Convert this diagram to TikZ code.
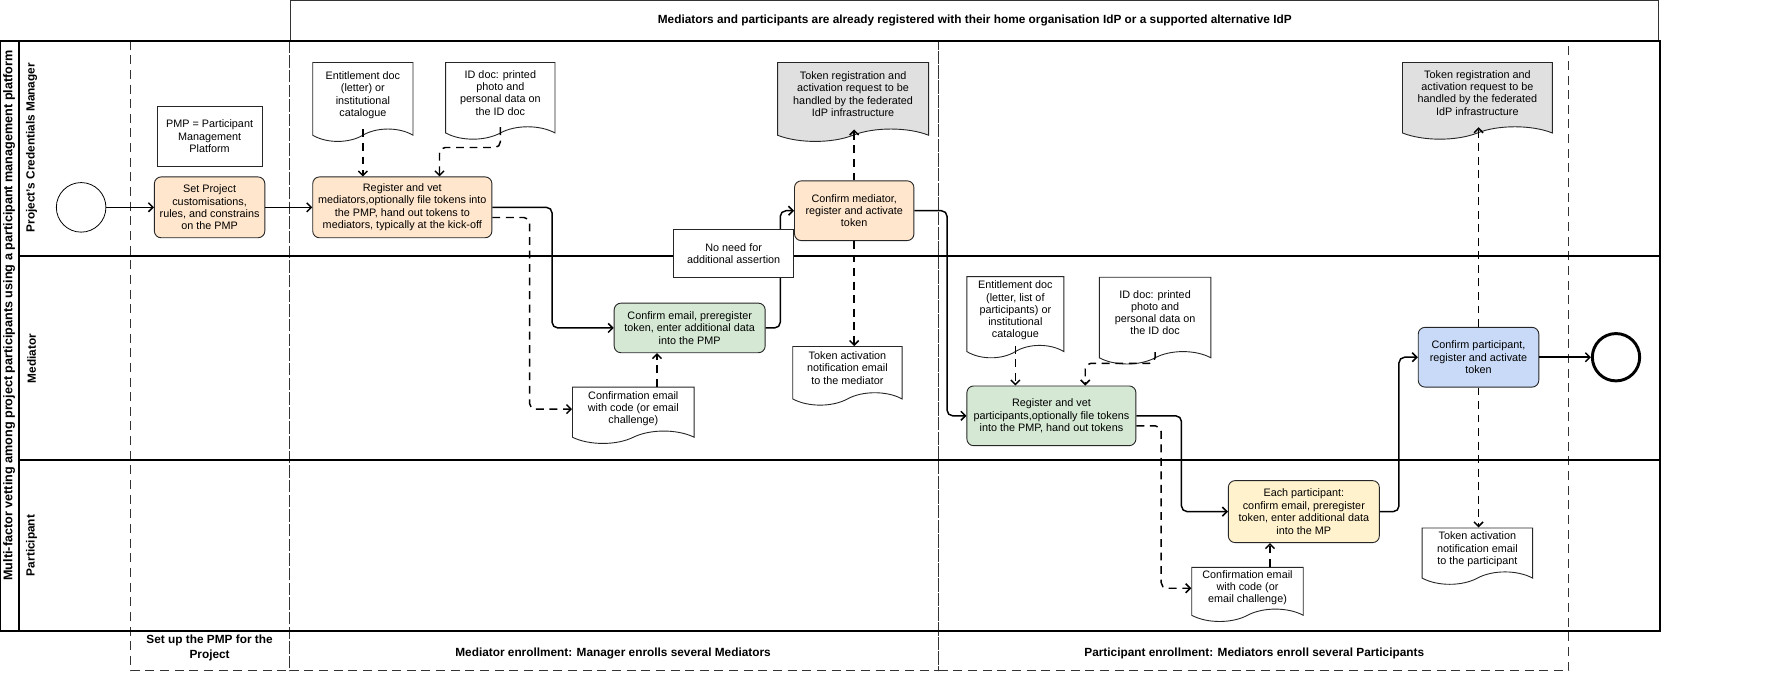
\documentclass[tikz,border=0pt]{standalone}
\usepackage{fontspec}
\setmainfont{Liberation Sans}
\usetikzlibrary{arrows.meta,shapes.symbols}
\definecolor{peach}{HTML}{FFE6CC}
\definecolor{mint}{HTML}{D5E8D4}
\definecolor{cream}{HTML}{FFF2CC}
\definecolor{sky}{HTML}{C9DAF8}
\definecolor{fog}{HTML}{E0E0E0}
\definecolor{phasegray}{HTML}{333333}
\tikzset{
  task/.style={draw=black!85, line width=0.8pt, rounded corners=6pt, align=center, inner sep=1pt, font=\fontsize{9.6}{11}\selectfont},
  document/.style={draw=black!85, line width=0.8pt, fill=white, tape, tape bend top=none, tape bend bottom=in and out, tape bend height=11pt, align=center, inner sep=0.5pt, font=\fontsize{9.6}{10.8}\selectfont, execute at end node={\rule[-3pt]{0pt}{3pt}}},
  memo/.style={draw=black!85, line width=0.8pt, fill=white, align=center, inner sep=1pt, font=\fontsize{9.6}{11}\selectfont},
  flow/.style={line width=1.3pt, rounded corners=5pt, -{Straight Barb[length=4pt,width=8pt]}},
  assoc/.style={flow, dash pattern=on 7pt off 5pt},
  phasebox/.style={draw=phasegray, line width=1.2pt, dash pattern=on 8pt off 5pt},
  lanelabel/.style={rotate=90, font=\bfseries\fontsize{10.5}{12}\selectfont},
  phaselabel/.style={align=center, font=\bfseries\fontsize{10.5}{12.5}\selectfont}
}
\begin{document}
\begin{tikzpicture}[x=1pt, y=-1pt]
  \useasboundingbox (0,0) rectangle (1568,612);

  \draw[line width=0.8pt, black!80] (258,36) -- (258,0.5) -- (1472,0.5) -- (1472,36);
  \node[font=\bfseries\fontsize{10.5}{12}\selectfont] (banner) at (865,18) {Mediators and participants are already registered with their home organisation IdP or a supported alternative IdP};

  \draw[phasebox] (116,36) rectangle (257,595);
  \draw[phasebox] (257,36) rectangle (833,595);
  \draw[phasebox] (833,36) rectangle (1392,595);
  \node[phaselabel] (setup) at (186,575) {Set up the PMP for the\\Project};
  \node[phaselabel] (medphase) at (544,580) {Mediator enrollment: Manager enrolls several Mediators};
  \node[phaselabel] (partphase) at (1113,580) {Participant enrollment: Mediators enroll several Participants};

  \draw[line width=1.8pt] (0,36) rectangle (1473,560);
  \draw[line width=1.8pt] (17,36) -- (17,560);
  \draw[line width=1.8pt] (17,227) -- (1473,227);
  \draw[line width=1.8pt] (17,408) -- (1473,408);
  \node[lanelabel, font=\bfseries\fontsize{11.2}{13}\selectfont] (pool) at (8,280) {Multi-factor vetting among project participants using a participant management platform};
  \node[lanelabel] (manager) at (28,131) {Project's Credentials Manager};
  \node[lanelabel] (mediator) at (28,318) {Mediator};
  \node[lanelabel] (participant) at (28,484) {Participant};

  \node[draw, circle, minimum size=44pt, line width=0.7pt] (start) at (72,184) {};
  \node[draw, circle, minimum size=42pt, line width=2.6pt] (finish) at (1434,317) {};

  \node[memo, minimum width=93pt, minimum height=53pt] (pmp) at (186,121) {PMP = Participant\\Management\\Platform};
  \node[task, fill=peach, minimum width=98pt, minimum height=54pt] (setproj) at (186,184) {Set Project\\customisations,\\rules, and constrains\\on the PMP};
  \node[task, fill=peach, minimum width=159pt, minimum height=54pt] (regmed) at (357,184) {Register and vet\\mediators,optionally file tokens into\\the PMP, hand out tokens to\\mediators, typically at the kick-off};
  \node[task, fill=peach, minimum width=106pt, minimum height=53pt] (confmed) at (758,187) {Confirm mediator,\\register and activate\\token};
  \node[task, fill=mint, minimum width=134pt, minimum height=44pt] (medmail) at (612,291) {Confirm email, preregister\\token, enter additional data\\into the PMP};
  \node[task, fill=mint, minimum width=150pt, minimum height=53pt] (regpart) at (933,369) {Register and vet\\participants,optionally file tokens\\into the PMP, hand out tokens};
  \node[task, fill=cream, minimum width=134pt, minimum height=55pt] (partmail) at (1157,454) {Each participant:\\confirm email, preregister\\token, enter additional data\\into the MP};
  \node[task, fill=sky, minimum width=107pt, minimum height=53pt] (confpart) at (1312,317) {Confirm participant,\\register and activate\\token};

  \node[document, minimum width=89pt, minimum height=70pt] (entmed) at (322,85) {Entitlement doc\\(letter) or\\institutional\\catalogue};
  \node[document, minimum width=97pt, minimum height=68pt] (idmed) at (444,84) {ID doc: printed\\photo and\\personal data on\\the ID doc};
  \node[document, fill=fog, minimum width=134pt, minimum height=70pt] (fedmed) at (757,85) {Token registration and\\activation request to be\\handled by the federated\\IdP infrastructure};
  \node[document, minimum width=97pt, minimum height=52pt] (notemed) at (752,328) {Token activation\\notification email\\to the mediator};
  \node[document, minimum width=108pt, minimum height=50pt] (codemed) at (562,363) {Confirmation email\\with code (or email\\challenge)};
  \node[document, minimum width=86pt, minimum height=72pt] (entpart) at (901,276) {Entitlement doc\\(letter, list of\\participants) or\\institutional\\catalogue};
  \node[document, minimum width=99pt, minimum height=77pt] (idpart) at (1025,279) {ID doc: printed\\photo and\\personal data on\\the ID doc};
  \node[document, fill=fog, minimum width=133pt, minimum height=68pt] (fedpart) at (1311,84) {Token registration and\\activation request to be\\handled by the federated\\IdP infrastructure};
  \node[document, minimum width=98pt, minimum height=50pt] (notepart) at (1311,488) {Token activation\\notification email\\to the participant};
  \node[document, minimum width=99pt, minimum height=48pt] (codepart) at (1107,522) {Confirmation email\\with code (or\\email challenge)};

  \draw[flow] (start) -- (setproj);
  \draw[flow] (setproj) -- (regmed);
  \draw[flow] (regmed.east) -- ++(53,0) |- (medmail);
  \draw[flow] (medmail.east) -- ++(13,0) |- (confmed);
  \draw[flow] (confmed.east) -- ++(29,0) |- (regpart);
  \draw[flow] (regpart.east) -- ++(40,0) |- (partmail);
  \draw[flow] (partmail.east) -- ++(17,0) |- (confpart);
  \draw[flow] (confpart) -- (finish);

  \node[memo, minimum width=107pt, minimum height=43pt] (noneed) at (651,225) {No need for\\additional assertion};

  \draw[assoc] (entmed.south) -- (entmed.south |- regmed.north);
  \draw[assoc] (idmed.south) -- ++(0,18) -| ([xshift=33pt]regmed.north);
  \draw[assoc] ([yshift=-9pt]regmed.east) -- ++(33,0) |- (codemed);
  \draw[assoc] ([xshift=21pt]codemed.north) -- ([xshift=21pt]codemed.north |- medmail.south);
  \draw[assoc] (confmed.north) -- (confmed.north |- fedmed.south);
  \draw[assoc] (confmed.south) -- (confmed.south |- notemed.north);
  \draw[assoc] (entpart.south) -- (entpart.south |- regpart.north);
  \draw[assoc] (idpart.south) -- ++(0,10) -| ([xshift=30pt]regpart.north);
  \draw[assoc] ([yshift=-9pt]regpart.east) -- ++(22,0) |- (codepart);
  \draw[assoc] ([xshift=20pt]codepart.north) -- ([xshift=20pt]codepart.north |- partmail.south);
  \draw[assoc] (confpart.north) -- (confpart.north |- fedpart.south);
  \draw[assoc] (confpart.south) -- (confpart.south |- notepart.north);
\end{tikzpicture}
\end{document}
